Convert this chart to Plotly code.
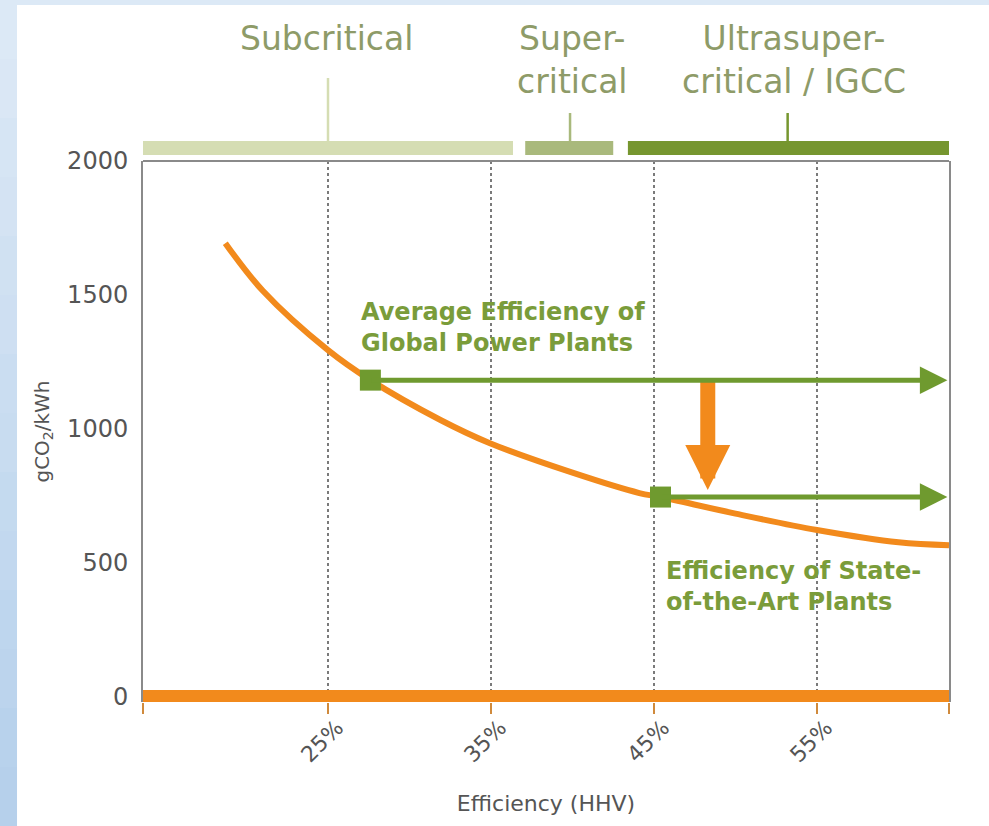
import plotly.graph_objects as go

# ---------------- data ----------------
EFF = [18.7, 21.0, 25.0, 27.6, 31.9, 34.9, 40.0, 44.1, 45.4, 50.0, 55.0, 60.0, 63.1]
CO2 = [1693, 1515, 1293, 1181, 1032, 946, 835, 759, 744, 682, 621, 575, 564]

XMIN, XMAX = 13.65, 63.1
X_TICKS = [25, 35, 45, 55]
X_TICK_TEXT = ["25%", "35%", "45%", "55%"]
X_EDGE_TICKS = [XMIN, XMAX]
Y_TICKS = [0, 500, 1000, 1500, 2000]
Y_TICK_TEXT = ["0", "500", "1000", "1500", "2000"]

AVG_EFF, AVG_CO2 = 27.6, 1181
SOTA_EFF, SOTA_CO2 = 45.4, 744
ARROW_END = 63.0
DROP_X, DROP_TO = 48.3, 770

AVG_LABEL = "Average Efficiency of<br>Global Power Plants"
AVG_LABEL_POS = [26.9, 1376]
SOTA_LABEL = "Efficiency of State-<br>of-the-Art Plants"
SOTA_LABEL_POS = [45.6, 411]

BAND_NAMES = ["Subcritical", "Super-<br>critical", "Ultrasuper-<br>critical / IGCC"]
BAND_START = [XMIN, 37.1, 43.4]
BAND_END = [36.35, 42.5, XMAX]
BAND_MARK = [25.0, 39.85, 53.2]
BAND_LABEL_X = [24.9, 40.0, 53.6]

# ---------------- styles ----------------
ORANGE = "#f28a1c"
GREEN = "#6f9a2f"
TEXT_GREEN = "#7a9c3a"
BAND_COLORS = ["#d5ddb3", "#a9b97c", "#76962f"]
BAND_TICK_TOP = [1.1534, 1.0887, 1.0887]
LABEL_COLOR = "#8e9b68"
TICK_COLOR = "#d08a3c"
FONT = "DejaVu Sans"

fig = go.Figure()

# curve
fig.add_trace(go.Scatter(x=EFF, y=CO2, mode="lines", line=dict(color=ORANGE, width=6, shape="spline"),
                         hoverinfo="skip", showlegend=False))
# squares
fig.add_trace(go.Scatter(x=[AVG_EFF, SOTA_EFF], y=[AVG_CO2, SOTA_CO2], mode="markers",
                         marker=dict(symbol="square", size=21, color=GREEN),
                         hoverinfo="skip", showlegend=False))

shapes = []
# white page over blue paper
shapes.append(dict(type="rect", xref="paper", yref="paper", x0=-0.1563, x1=1.2, y0=-0.4, y1=1.2884,
                   fillcolor="white", line=dict(width=0), layer="below"))
# left gradient strip
N = 14
top_c = (0xde, 0xea, 0xf6)
bot_c = (0xb4, 0xcf, 0xeb)
y_top, y_bot = 1.2976, -0.2292
for i in range(N):
    t = (i + 0.5) / N
    c = tuple(int(round(top_c[k] + (bot_c[k] - top_c[k]) * t)) for k in range(3))
    shapes.append(dict(type="rect", xref="paper", yref="paper", x0=-0.18, x1=-0.1563,
                       y0=y_top + (y_bot - y_top) * i / N, y1=y_top + (y_bot - y_top) * (i + 1) / N - 0.001,
                       fillcolor="rgb(%d,%d,%d)" % c, line=dict(width=0), layer="below"))
# top frame line
shapes.append(dict(type="line", xref="x domain", yref="y domain", x0=0, x1=1, y0=1, y1=1,
                   line=dict(color="#8a8a8a", width=2)))
# category bands + ticks
for s, e, m, c, tt in zip(BAND_START, BAND_END, BAND_MARK, BAND_COLORS, BAND_TICK_TOP):
    shapes.append(dict(type="rect", xref="x", yref="paper", x0=s, x1=e, y0=1.011, y1=1.037,
                       fillcolor=c, line=dict(width=0)))
    shapes.append(dict(type="line", xref="x", yref="paper", x0=m, x1=m, y0=1.037, y1=tt,
                       line=dict(color=c, width=2.5)))

annotations = []
for name, lx in zip(BAND_NAMES, BAND_LABEL_X):
    annotations.append(dict(x=lx, y=1.266, xref="x", yref="paper", text=name, showarrow=False,
                            xanchor="center", yanchor="top", align="center",
                            font=dict(family=FONT, size=33, color=LABEL_COLOR)))

# orange drop arrow
annotations.append(dict(x=DROP_X, y=DROP_TO, ax=DROP_X, ay=AVG_CO2, xref="x", yref="y", axref="x", ayref="y",
                        text="", showarrow=True, arrowhead=2, arrowsize=0.6, arrowwidth=15,
                        arrowcolor=ORANGE, standoff=0, startstandoff=0))
# green arrows
for sx, sy in [(AVG_EFF, AVG_CO2), (SOTA_EFF, SOTA_CO2)]:
    annotations.append(dict(x=ARROW_END, y=sy, ax=sx, ay=sy, xref="x", yref="y", axref="x", ayref="y",
                            text="", showarrow=True, arrowhead=2, arrowsize=1.1, arrowwidth=5,
                            arrowcolor=GREEN, standoff=0, startstandoff=0))
# labels
annotations.append(dict(x=AVG_LABEL_POS[0], y=AVG_LABEL_POS[1], xref="x", yref="y", text="<b>%s</b>" % AVG_LABEL,
                        showarrow=False, xanchor="left", yanchor="middle", align="left",
                        font=dict(family=FONT, size=24, color=TEXT_GREEN)))
annotations.append(dict(x=SOTA_LABEL_POS[0], y=SOTA_LABEL_POS[1], xref="x", yref="y", text="<b>%s</b>" % SOTA_LABEL,
                        showarrow=False, xanchor="left", yanchor="middle", align="left",
                        font=dict(family=FONT, size=24, color=TEXT_GREEN)))

fig.update_layout(
    width=989, height=826,
    margin=dict(l=143, r=40, t=161, b=124),
    paper_bgcolor="#dce9f6",
    plot_bgcolor="rgba(0,0,0,0)",
    font=dict(family=FONT, color="#555555"),
    shapes=shapes,
    annotations=annotations,
    showlegend=False,
    xaxis=dict(range=[XMIN, XMAX], tickmode="array", tickvals=X_TICKS, ticktext=X_TICK_TEXT,
               tickangle=-45, ticks="outside", ticklen=11, tickwidth=2, tickcolor=TICK_COLOR,
               showgrid=True, griddash="dot", gridcolor="#7a7a7a", gridwidth=1.5,
               minor=dict(tickmode="array", tickvals=X_EDGE_TICKS, ticks="outside", ticklen=11,
                          tickwidth=2, tickcolor=TICK_COLOR, showgrid=False),
               showline=False, zeroline=False,
               ticklabelstandoff=-8, ticklabelshift=9,
               tickfont=dict(size=22, color="#555555"),
               title=dict(text="Efficiency (HHV)", font=dict(size=22, color="#555555"), standoff=29)),
    yaxis=dict(range=[-22, 2000], tickmode="array", tickvals=Y_TICKS, ticktext=Y_TICK_TEXT,
               ticks="", showgrid=False, zeroline=True, zerolinecolor=ORANGE, zerolinewidth=12,
               showline=True, mirror=True, linecolor="#8a8a8a", linewidth=2,
               tickfont=dict(size=24, color="#555555"), ticklabelstandoff=8,
               title=dict(text="gCO<sub>2</sub>/kWh", font=dict(size=20, color="#555555"), standoff=12)),
)

fig.write_html("out.html", config={"displayModeBar": False},
               post_script="document.body.style.margin='0';document.body.style.padding='0';")
